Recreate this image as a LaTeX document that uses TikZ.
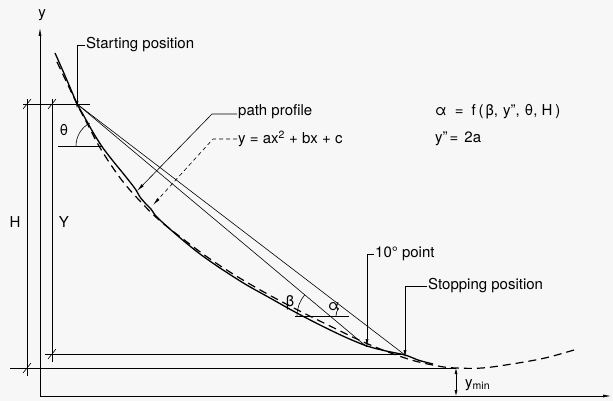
\documentclass[tikz,border=0pt]{standalone}
\usepackage{fontspec}
\setmainfont{TeX Gyre Heros}
\usetikzlibrary{arrows.meta}

\begin{document}
\begin{tikzpicture}[x=1pt,y=-1pt,font=\fontsize{15}{17}\selectfont,
	thinline/.style={line width=0.6pt},
	leader/.style={line width=0.6pt,-{Latex[length=8pt,width=3pt]}},
	profile/.style={line width=1.3pt,line join=round},
	fitted/.style={line width=1.2pt,dash pattern=on 8pt off 5pt},
	slash/.style={line width=0.6pt}]
	\fill[white!97!black] (0,0) rectangle (613,401);
	\useasboundingbox (0,0) rectangle (613,401);
	% axes
	\coordinate (O) at (40,396);
	\coordinate (yend) at (40,28);
	\coordinate (xend) at (611,396);
	\draw[leader] (O) -- (yend);
	\draw[leader] (O) -- (xend);
	\node (ylab) at (42,15) {y};
	% key points
	\coordinate (start) at (77,104);
	\coordinate (tenpt) at (367,347);
	\coordinate (stop) at (405,355);
	\coordinate (ymin) at (456,368);
	% dimension lines
	\draw[thinline] (23,104) -- (90,104);
	\draw[thinline] (10,368) -- (ymin);
	\draw[thinline] (45,354) -- (stop |- 0,354);
	\draw[thinline] (27,99) -- (27,376);
	\draw[thinline] (52,99) -- (52,362);
	\foreach \p in {(27,104),(52,104),(27,368),(52,354)}
		\draw[slash] \p ++(-4,5) -- ++(8,-10);
	\node (H) at (15,222) {H};
	\node (Y) at (64,222) {Y};
	% chords
	\draw[thinline] (start) -- (tenpt);
	\draw[thinline] (start) -- (stop);
	% path profile
	\draw[profile] plot[smooth,tension=0.6] coordinates {(55,53) (66,78) (start)};
	\draw[profile] plot[smooth,tension=0.5] coordinates {(start) (85,118) (94,134) (103,148) (113,161) (122,172) (130,182) (136,190) (140,197) (146,204) (151,209) (155,215) (161,221) (171,230) (185,242) (200,254) (220,268) (245,284) (270,298) (295,312) (320,325) (345,337) (367,346) (386,351) (stop) (418,360) (425,362) (433,364)};
	% fitted parabola
	\draw[fitted] plot[smooth,tension=0.6] coordinates {(57,62) (67,83) (78,106) (89,127) (99,146) (111,165) (124,183) (139,200) (158,219) (183,239) (213,261) (248,283) (288,305) (328,325) (368,344) (408,359) (438,366) (ymin) (482,368) (512,364) (545,358) (574,350)};
	% angle theta
	\coordinate (thc) at (102,146);
	\draw[thinline] (58,146) -- (thc);
	\draw[thinline] (thc) ++(180:26pt) arc[start angle=180,end angle=118,radius=26pt];
	\node (theta) at (64,130) {θ};
	% angles beta and alpha
	\coordinate (bc) at (330,316);
	\coordinate (ac) at (349,316);
	\draw[thinline] (295,316) -- (ac);
	\draw[thinline] (bc) ++(180:33pt) arc[start angle=180,end angle=140,radius=33pt];
	\draw[thinline] (ac) ++(180:13pt) arc[start angle=180,end angle=142,radius=13pt];
	\node (beta) at (290,303) {β};
	\node (alpha) at (334,307) {α};
	% labels and leaders
	\node[anchor=west,inner sep=1pt] (startlbl) at (85,45) {Starting position};
	\draw[leader] (startlbl.west) -| ([yshift=-5pt]start);
	\node[anchor=west,inner sep=1pt] (proflbl) at (237,112) {path profile};
	\coordinate (profbend) at (212,114);
	\coordinate (profpt) at (137,191);
	\draw[leader] (proflbl.west |- profbend) -- (profbend) -- (profpt);
	\node[anchor=west,inner sep=1pt] (fitlbl) at (237,139) {y = ax\textsuperscript{2} + bx + c};
	\coordinate (fitbend) at (213,139);
	\coordinate (fitpt) at (153,205);
	\draw[leader,dash pattern=on 4pt off 3pt] (fitlbl.west) -- (fitbend) -- (fitpt);
	\node[anchor=west,inner sep=1pt] (tenlbl) at (374,254) {10° point};
	\draw[leader] (tenlbl.west) -| (tenpt);
	\node[anchor=west,inner sep=1pt] (stoplbl) at (427,286) {Stopping position};
	\draw[leader] (stoplbl.west) -| ([yshift=-3pt]stop);
	\node[anchor=west,inner sep=1pt] (formula) at (434,112) {α\hspace{8pt}=\hspace{8pt}f\hspace{3pt}(\hspace{2pt}β,\hspace{5pt}y",\hspace{5pt}θ,\hspace{4pt}H\hspace{3pt})};
	\node[anchor=west,inner sep=1pt] (yddot) at (434,139) {y"\hspace{2pt}=\hspace{6pt}2a};
	% y min
	\node[anchor=west,inner sep=1pt] (yminlbl) at (464,385) {y\textsubscript{min}};
	\draw[line width=0.6pt,{Latex[length=6pt,width=3pt]}-{Latex[length=6pt,width=3pt]}] (ymin) -- (ymin |- O);
\end{tikzpicture}
\end{document}
